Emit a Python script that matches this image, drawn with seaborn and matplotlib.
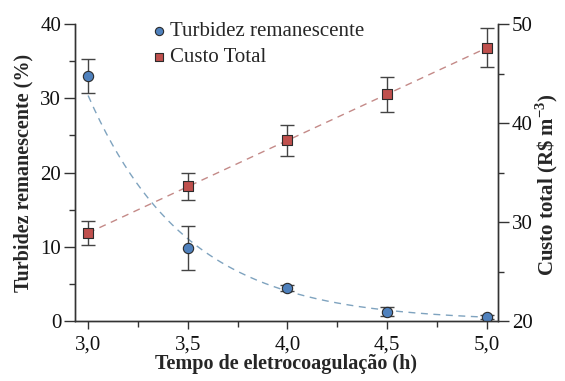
import numpy as np
import pandas as pd
import matplotlib
matplotlib.use("Agg")
import matplotlib.pyplot as plt
from matplotlib.ticker import MultipleLocator, FuncFormatter
import seaborn as sns

# Electrocoagulation time (h)
tempo = [3.0, 3.5, 4.0, 4.5, 5.0]
# Remaining turbidity (%) and its standard deviation
turbidez = [33.0, 9.85, 4.45, 1.26, 0.6]
turbidez_err = [2.35, 3.0, 0.45, 0.6, 0.25]
# Total cost (R$ m-3) and its standard deviation
custo = [28.9, 33.6, 38.25, 42.9, 47.6]
custo_err = [1.2, 1.35, 1.55, 1.75, 1.95]

sns.set_theme(style="ticks")
plt.rcParams["font.family"] = ["Liberation Serif", "DejaVu Serif"]
plt.rcParams["mathtext.fontset"] = "custom"
plt.rcParams["mathtext.rm"] = "Liberation Serif"
plt.rcParams["mathtext.bf"] = "Liberation Serif:bold"

blue = "#4F81BD"
red = "#C0504D"
edge = "#2b2b2b"
ebar = "#444444"

df = pd.DataFrame({"tempo": tempo, "turbidez": turbidez, "turb_err": turbidez_err,
                   "custo": custo, "custo_err": custo_err})

fig = plt.figure(figsize=(5.65, 3.81), dpi=100)
ax = fig.add_axes([0.133, 0.157, 0.748, 0.78])
ax2 = ax.twinx()

# Fitted trend lines: exponential decay for turbidity, linear for cost
xs = np.linspace(tempo[0], tempo[-1], 200)
k, lna = np.polyfit(df["tempo"], np.log(df["turbidez"]), 1)
fit_t = pd.DataFrame({"x": xs, "y": np.exp(lna + k * xs)})
m, b = np.polyfit(df["tempo"], df["custo"], 1)
fit_c = pd.DataFrame({"x": xs, "y": m * xs + b})

sns.lineplot(data=fit_t, x="x", y="y", ax=ax, color="#7fa3bf", lw=1.0,
             linestyle=(0, (5, 4)), zorder=1)
sns.lineplot(data=fit_c, x="x", y="y", ax=ax2, color="#c48a88", lw=1.0,
             linestyle=(0, (5, 4)), zorder=1)

ax.errorbar(df["tempo"], df["turbidez"], yerr=df["turb_err"], fmt="none",
            ecolor=ebar, elinewidth=1.0, capsize=5, capthick=1.0, zorder=2)
ax2.errorbar(df["tempo"], df["custo"], yerr=df["custo_err"], fmt="none",
             ecolor=ebar, elinewidth=1.0, capsize=5, capthick=1.0, zorder=2)

sns.scatterplot(data=df, x="tempo", y="turbidez", ax=ax, marker="o", s=55,
                color=blue, edgecolor=edge, linewidth=0.8, zorder=3,
                label="Turbidez remanescente", legend=False)
sns.scatterplot(data=df, x="tempo", y="custo", ax=ax2, marker="s", s=48,
                color=red, edgecolor=edge, linewidth=0.8, zorder=3,
                label="Custo Total", legend=False)

ax.set_xlim(2.935, 5.055)
ax.set_ylim(0, 40)
ax2.set_ylim(20, 50)

ax.xaxis.set_major_locator(MultipleLocator(0.5))
ax.xaxis.set_minor_locator(MultipleLocator(0.25))
ax.yaxis.set_major_locator(MultipleLocator(10))
ax.yaxis.set_minor_locator(MultipleLocator(5))
ax2.yaxis.set_major_locator(MultipleLocator(10))
ax2.yaxis.set_minor_locator(MultipleLocator(5))
ax.xaxis.set_major_formatter(FuncFormatter(lambda v, p: f"{v:.1f}".replace(".", ",")))

for a in (ax, ax2):
    a.spines["top"].set_visible(False)
    for s in a.spines.values():
        s.set_color("#333333")
        s.set_linewidth(1.0)
    a.tick_params(which="major", length=8, width=1.0, color="#333333",
                  labelsize=15, labelcolor="#111111", pad=2)
    a.tick_params(which="minor", length=4, width=1.0, color="#333333")
ax.tick_params(axis="x", which="major", length=6, pad=4)
ax.tick_params(axis="x", which="minor", length=4)

ax.set_xlabel("Tempo de eletrocoagulação (h)", fontsize=14.5, fontweight="bold", labelpad=0)
ax.set_ylabel("Turbidez remanescente (%)", fontsize=14.5, fontweight="bold", labelpad=5)
ax2.set_ylabel(r"Custo total (R\$ m$^{\mathbf{-3}}$)", fontsize=15, fontweight="bold")
ax2.yaxis.set_label_coords(1.085, 0.46)

h1, l1 = ax.get_legend_handles_labels()
h2, l2 = ax2.get_legend_handles_labels()
leg = ax.legend(h1 + h2, l1 + l2, loc="upper left", bbox_to_anchor=(0.145, 1.05),
                frameon=False, fontsize=15, handletextpad=0.0, labelspacing=0.3,
                handlelength=1.0, borderaxespad=0.2, markerscale=0.8)

fig.savefig("out.png", dpi=100)
